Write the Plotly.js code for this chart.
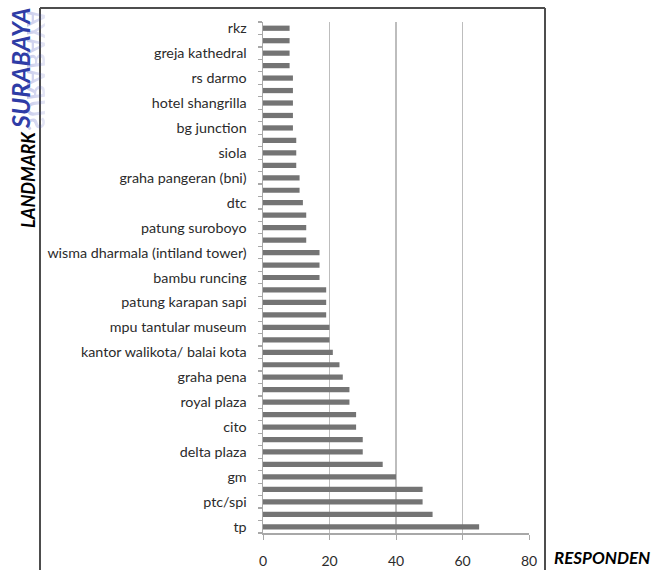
<!DOCTYPE html>
<html>
<head>
<meta charset="utf-8">
<script src="https://cdn.plot.ly/plotly-3.0.1.min.js"></script>
<style>
  html, body { margin: 0; padding: 0; background: #fff; }
  #wrap { position: relative; width: 652px; height: 570px; overflow: hidden; }
  #chart { width: 652px; height: 570px; }
  #reflect {
    position: absolute; left: 37px; top: 70px;
    transform: translate(-50%, -50%) rotate(-90deg) scaleY(-1);
    font-family: Lato, "Open Sans", sans-serif; font-weight: bold; font-style: italic;
    font-size: 25px; color: rgba(70, 80, 190, 0.35); white-space: nowrap;
    -webkit-mask-image: linear-gradient(to bottom, rgba(0,0,0,0.2), rgba(0,0,0,1));
    mask-image: linear-gradient(to bottom, rgba(0,0,0,0.2), rgba(0,0,0,1));
    pointer-events: none;
  }
</style>
</head>
<body>
<div id="wrap">
  <div id="chart"></div>
  <div id="reflect">SURABAYA</div>
</div>
<script>
// Categories from top to bottom; unlabeled bars in the reference carry no readable name
const categories = [
  "rkz", "", "greja kathedral", "", "rs darmo", "", "hotel shangrilla", "",
  "bg junction", "", "siola", "", "graha pangeran (bni)", "", "dtc", "",
  "patung suroboyo", "", "wisma dharmala (intiland tower)", "", "bambu runcing", "",
  "patung karapan sapi", "", "mpu tantular museum", "", "kantor walikota/ balai kota", "",
  "graha pena", "", "royal plaza", "", "cito", "", "delta plaza", "",
  "gm", "", "ptc/spi", "", "tp"
];
const responden = [
  8, 8, 8, 8, 9, 9, 9, 9,
  9, 10, 10, 10, 11, 11, 12, 13,
  13, 13, 17, 17, 17, 19,
  19, 19, 20, 20, 21, 23,
  24, 26, 26, 28, 28, 30, 30, 36,
  40, 48, 48, 51, 65
];
const xTicks = [0, 20, 40, 60, 80];

const pos = categories.map((c, i) => i);
const labeledPos = pos.filter(i => categories[i] !== "");
const labeledText = labeledPos.map(i => categories[i]);
const boundaries = [];
for (let i = 0; i <= categories.length; i++) boundaries.push(i - 0.5);

const FONT = 'Lato, "Open Sans", sans-serif';

const trace = {
  type: 'bar',
  orientation: 'h',
  x: responden,
  y: pos,
  marker: { color: '#747474', line: { width: 0 } },
  hoverinfo: 'x+text',
  text: categories,
  textposition: 'none'
};

// plot area: x 263..529, y 22..533
const L = 263, R = 529, T = 22, B = 533;
const pw = R - L, ph = B - T;
const px = v => (v - L) / pw;
const py = v => (B - v) / ph;

const layout = {
  width: 652, height: 570,
  margin: { l: L, r: 652 - R, t: T, b: 570 - B, pad: 0 },
  paper_bgcolor: '#fff', plot_bgcolor: '#fff',
  showlegend: false,
  bargap: 0.58,
  font: { family: FONT, color: '#2b2b2b', size: 14 },
  xaxis: {
    range: [0, 80],
    tickvals: xTicks,
    ticktext: xTicks.map(String),
    showgrid: true, gridcolor: '#bdbdbd', gridwidth: 1.5,
    zeroline: false,
    showline: true, linecolor: '#a8a8a8', linewidth: 1.5,
    ticks: 'outside', ticklen: 5, tickcolor: '#a8a8a8',
    ticklabelstandoff: 10,
    tickfont: { family: FONT, size: 14, color: '#2b2b2b' },
    fixedrange: true
  },
  yaxis: {
    range: [categories.length - 0.5, -0.5],
    tickmode: 'array',
    tickvals: labeledPos,
    ticktext: labeledText,
    ticks: '',
    showgrid: false, zeroline: false,
    showline: true, linecolor: '#a8a8a8', linewidth: 1.5,
    ticklabelstandoff: 12,
    tickfont: { family: FONT, size: 14.3, color: '#2b2b2b' },
    minor: {
      tickmode: 'array', tickvals: boundaries,
      ticks: 'outside', ticklen: 4, tickcolor: '#a8a8a8', tickwidth: 1.2,
      showgrid: false
    },
    fixedrange: true
  },
  shapes: [
    { type: 'line', xref: 'paper', yref: 'paper', x0: px(40), x1: px(40), y0: py(8), y1: py(580), line: { color: '#4d4d4d', width: 2 } },
    { type: 'line', xref: 'paper', yref: 'paper', x0: px(40), x1: px(545), y0: py(8), y1: py(8), line: { color: '#4d4d4d', width: 2 } },
    { type: 'line', xref: 'paper', yref: 'paper', x0: px(545), x1: px(545), y0: py(8), y1: py(580), line: { color: '#4d4d4d', width: 2 } }
  ],
  annotations: [
    { text: '<b><i>LANDMARK</i></b>', xref: 'paper', yref: 'paper', x: px(28), y: py(180),
      textangle: -90, showarrow: false, xanchor: 'center', yanchor: 'middle',
      font: { family: FONT, size: 18, color: '#000' } },
    { text: '<b><i>SURABAYA</i></b>', xref: 'paper', yref: 'paper', x: px(20), y: py(69),
      textangle: -90, showarrow: false, xanchor: 'center', yanchor: 'middle',
      font: { family: FONT, size: 25, color: '#2e3ca6' } },
    { text: '<b><i>RESPONDEN</i></b>', xref: 'paper', yref: 'paper', x: px(602), y: py(557),
      showarrow: false, xanchor: 'center', yanchor: 'middle',
      font: { family: FONT, size: 17, color: '#000' } }
  ]
};

Plotly.newPlot('chart', [trace], layout, { staticPlot: true, displayModeBar: false });
</script>
</body>
</html>
